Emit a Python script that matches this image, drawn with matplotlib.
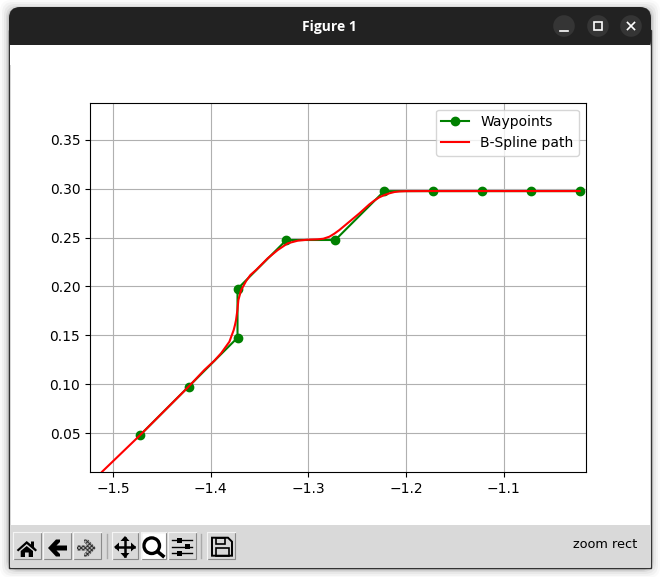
import matplotlib
matplotlib.use("Agg")
import matplotlib.pyplot as plt
from matplotlib.patches import Rectangle, Circle, Polygon, FancyBboxPatch

# waypoints
way_x = [-1.4725, -1.4225, -1.3725, -1.3725, -1.3225, -1.2725, -1.2225, -1.1725, -1.1225, -1.0725, -1.0225]
way_y = [0.0475, 0.0975, 0.1475, 0.1975, 0.2475, 0.2475, 0.2975, 0.2975, 0.2975, 0.2975, 0.2975]

# spline, traced by eye
path_x = [-1.511, -1.4725, -1.4225, -1.4064, -1.3962, -1.3893, -1.3808, -1.3764, -1.3751, -1.374,
          -1.3726, -1.3716, -1.3688, -1.3665, -1.3637, -1.3593, -1.3535, -1.3416, -1.3314, -1.3212,
          -1.3109, -1.3007, -1.2905, -1.2847, -1.2785, -1.2734, -1.2683, -1.2581, -1.2478, -1.2376,
          -1.2325, -1.2274, -1.2223, -1.2171, -1.212, -1.2069, -1.2002, -1.1725, -1.0225]
path_y = [0.0104, 0.0475, 0.0975, 0.1145, 0.124, 0.1316, 0.1434, 0.1554, 0.1605, 0.1656,
          0.1759, 0.1861, 0.1963, 0.2004, 0.2055, 0.2117, 0.2168, 0.2288, 0.2372, 0.2441,
          0.2468, 0.2478, 0.2482, 0.2488, 0.2509, 0.254, 0.2577, 0.2662, 0.2748, 0.284,
          0.2879, 0.2912, 0.2935, 0.2953, 0.2966, 0.2972, 0.2975, 0.2976, 0.2976]

x_ticks = [-1.5, -1.4, -1.3, -1.2, -1.1]
y_ticks = [0.05, 0.10, 0.15, 0.20, 0.25, 0.30, 0.35]

plt.rcParams["hatch.linewidth"] = 0.7

fig = plt.figure(figsize=(6.6, 5.77), dpi=100, facecolor="white")

# window frame drawn in screen pixels
bg = fig.add_axes([0, 0, 1, 1], zorder=0)
bg.set_xlim(0, 660)
bg.set_ylim(577, 0)
bg.axis("off")

# soft shadow
for grow, alpha in [(9, 0.02), (7, 0.03), (5, 0.04), (3, 0.06), (1.5, 0.1)]:
    bg.add_patch(FancyBboxPatch((9 - grow, 7 - grow + 2), 642 + 2 * grow, 560 + 2 * grow,
                                boxstyle="round,pad=0,rounding_size=11", fc="black", ec="none", alpha=alpha))

bg.add_patch(Rectangle((9, 30), 642, 537.5, fc="white", ec="#333333", lw=1))
bg.add_patch(FancyBboxPatch((9, 7), 642, 45, boxstyle="round,pad=0,rounding_size=11", fc="#222222", ec="none"))
bg.add_patch(Rectangle((10, 45), 640, 20, fc="white", ec="none"))
bg.text(329, 27, "Figure 1", color="white", fontsize=10, fontweight="bold", family="Open Sans",
        ha="center", va="center")

for cx in [564, 598, 631]:
    bg.add_patch(Circle((cx, 26), 10.8, fc="#353535", ec="none"))
bg.plot([559.5, 568], [30.5, 30.5], color="white", lw=1.2)
bg.add_patch(Rectangle((594, 22), 7.5, 8, fc="none", ec="white", lw=1.2))
bg.plot([627.5, 634.5], [22.5, 29.5], color="white", lw=1.2)
bg.plot([627.5, 634.5], [29.5, 22.5], color="white", lw=1.2)

# toolbar
bg.add_patch(Rectangle((10, 525), 640, 42, fc="#d9d9d9", ec="none"))
buttons = [(13.3, 27.4), (43.3, 27.4), (73.3, 27.4), (112.3, 25.4), (140.7, 25), (168.3, 27.4), (207.3, 27.4)]
for i, (bx, bw) in enumerate(buttons):
    face = "white" if i == 4 else "#d9d9d9"
    bg.add_patch(Rectangle((bx, 532.3), bw, 27, fc=face, ec="#8a8a8a", lw=0.8))
    bg.plot([bx, bx, bx + bw], [559.3, 532.3, 532.3], color="#f4f4f4", lw=1)
bg.plot([106.7, 106.7], [534, 558], color="#aaaaaa", lw=1)
bg.plot([201.3, 201.3], [534, 558], color="#aaaaaa", lw=1)

# home
bg.add_patch(Polygon([(16.7, 550), (26.7, 541), (31, 544.5), (31, 541.5), (34, 541.5), (34, 547), (37, 550),
                      (35.5, 551.5), (26.7, 544), (18.2, 551.5)], fc="black"))
bg.add_patch(Polygon([(20.7, 551), (26.7, 546), (33, 551), (33, 557), (28.7, 557), (28.7, 552.5),
                      (25, 552.5), (25, 557), (20.7, 557)], fc="black"))
# back and forward
back = [(48, 548), (56, 539.5), (60, 539.5), (60, 542), (56.5, 545.5), (67, 545.5), (67, 550.5),
        (56.5, 550.5), (60, 554), (60, 556.5), (56, 556.5)]
bg.add_patch(Polygon(back, fc="black"))
fwd = [(96, 548), (88, 539.5), (84, 539.5), (84, 542), (87.5, 545.5), (77, 545.5), (77, 550.5),
       (87.5, 550.5), (84, 554), (84, 556.5), (88, 556.5)]
bg.add_patch(Polygon(fwd, fc="#b0b0b0", ec="#333333", hatch="xxxxxxxx", lw=0))
# move
bg.plot([116, 134], [547, 547], color="black", lw=1.8)
bg.plot([125, 125], [538, 556], color="black", lw=1.8)
for arrow in [[(114, 547), (119, 542.5), (119, 551.5)], [(136, 547), (131, 542.5), (131, 551.5)],
              [(125, 536), (120.5, 541), (129.5, 541)], [(125, 558), (120.5, 553), (129.5, 553)]]:
    bg.add_patch(Polygon(arrow, fc="black"))
# zoom
bg.add_patch(Circle((151.7, 545.7), 7.8, fc="none", ec="black", lw=2.4))
bg.plot([157.5, 163], [551.5, 556], color="black", lw=2.6)
# sliders
for sy, sx in [(540, 176.7), (546.7, 185), (553.3, 176.7)]:
    bg.plot([172, 192], [sy, sy], color="black", lw=1)
    bg.add_patch(Rectangle((sx, sy - 2.5), 5, 5, fc="black", ec="none"))
# save
bg.add_patch(Polygon([(212, 537.7), (228, 537.7), (232, 541.7), (232, 555.7), (212, 555.7)], fc="none", ec="black", lw=1.4))
bg.add_patch(Rectangle((216, 537.7), 9, 6, fc="none", ec="black", lw=1.2))
bg.add_patch(Rectangle((215.5, 548), 13, 7.7, fc="none", ec="black", lw=1.2))

bg.text(637.7, 545, "zoom rect", color="black", fontsize=9.3, ha="right", va="center")

# the plot, default subplot box of a 640x480 canvas
ax = fig.add_axes([90 / 660, 1 - 472.2 / 577, 496 / 660, 369.6 / 577], zorder=1)
ax.plot(way_x, way_y, "-og", label="Waypoints")
ax.plot(path_x, path_y, "-r", label="B-Spline path")
ax.set_xticks(x_ticks)
ax.set_yticks(y_ticks)
ax.set_xlim(-1.5234, -1.016)
ax.set_ylim(0.0099, 0.3881)
ax.grid(True)
ax.legend()

fig.savefig("out.png", dpi=100)
